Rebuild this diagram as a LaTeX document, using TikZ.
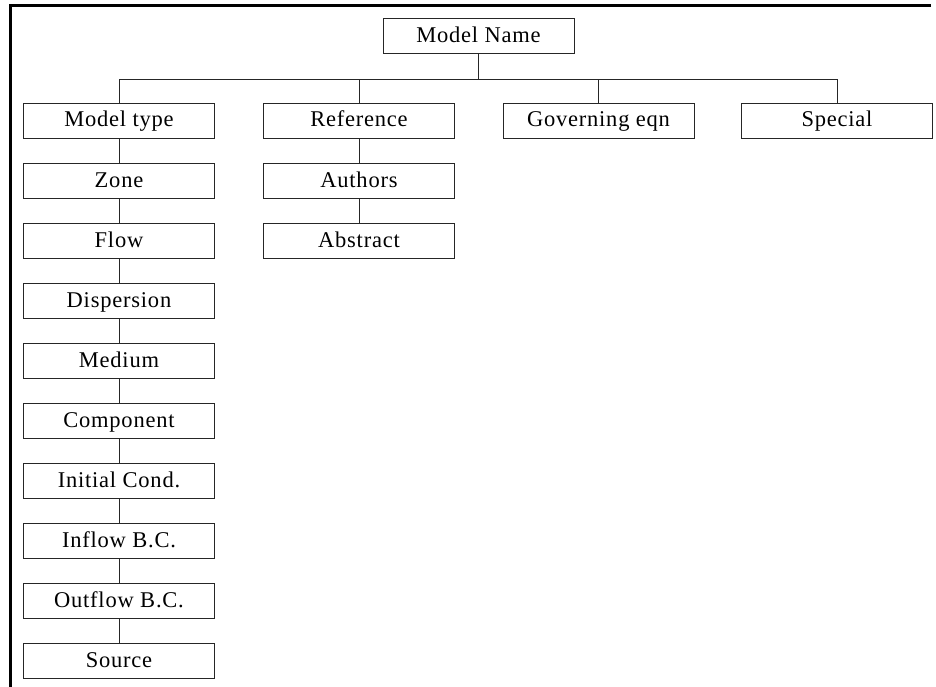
\documentclass[tikz,border=0pt]{standalone}
\usepackage{fontspec}
\setmainfont{Liberation Serif}
\begin{document}
\begin{tikzpicture}[x=1pt,y=-1pt,
  box/.style={draw=black!85, line width=0.9pt, minimum width=191pt, minimum height=35pt, inner sep=0pt, text height=17pt, text depth=4pt, font=\fontsize{22.5}{25}\selectfont\addfontfeature{LetterSpace=3.5}},
  link/.style={draw=black!85, line width=0.9pt},
  frame/.style={draw=black, line width=2.2pt}]
\useasboundingbox (0,0) rectangle (936,687);
\coordinate (tr) at (931,5.5);
\coordinate (tl) at (10.5,5.5);
\coordinate (bl) at (10.5,687);
\draw[frame] (tr) -- (tl) -- (bl);
% root
\node[box] (name) at (478.5,36) {Model Name};
\coordinate (bus) at (478.5,79);
% first row
\node[box] (mt)  at (119,120.5)   {Model type};
\node[box] (ref) at (359,120.5)   {Reference};
\node[box] (gov) at (598.5,120.5) {Governing eqn};
\node[box] (sp)  at (837,120.5)   {Special};
% model type column
\node[box] (zone) at (119,180.5) {Zone};
\node[box] (flow) at (119,240.5) {Flow};
\node[box] (disp) at (119,300.5) {Dispersion};
\node[box] (med)  at (119,360.5) {Medium};
\node[box] (comp) at (119,420.5) {Component};
\node[box] (ic)   at (119,480.5) {Initial Cond.};
\node[box] (ibc)  at (119,540.5) {Inflow B.C.};
\node[box] (obc)  at (119,600.5) {Outflow B.C.};
\node[box] (src)  at (119,660.5) {Source};
% reference column
\node[box] (auth) at (359,180.5) {Authors};
\node[box] (abs)  at (359,240.5) {Abstract};
% connectors
\draw[link] (name.south) -- (bus);
\draw[link] (mt.north) |- (sp.north |- bus) -- (sp.north);
\draw[link] (ref.north) -- (ref.north |- bus);
\draw[link] (gov.north) -- (gov.north |- bus);
\draw[link] (mt) -- (zone);
\draw[link] (zone) -- (flow);
\draw[link] (flow) -- (disp);
\draw[link] (disp) -- (med);
\draw[link] (med) -- (comp);
\draw[link] (comp) -- (ic);
\draw[link] (ic) -- (ibc);
\draw[link] (ibc) -- (obc);
\draw[link] (obc) -- (src);
\draw[link] (ref) -- (auth);
\draw[link] (auth) -- (abs);
\end{tikzpicture}
\end{document}
